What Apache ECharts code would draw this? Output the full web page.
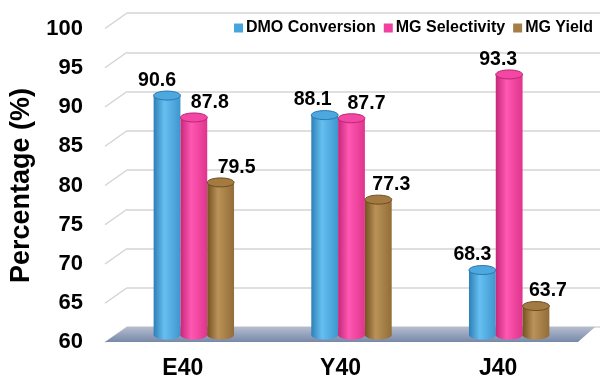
<!DOCTYPE html>
<html>
<head>
<meta charset="utf-8">
<script src="https://cdn.jsdelivr.net/npm/echarts@6/dist/echarts.min.js"></script>
<style>
  html, body { margin: 0; padding: 0; background: #fff; }
  #main { width: 603px; height: 385px; }
</style>
</head>
<body>
<div id="main"></div>
<script>
var categories = ['E40', 'Y40', 'J40'];
var seriesNames = ['DMO Conversion', 'MG Selectivity', 'MG Yield'];
var dmoConversion = [90.6, 88.1, 68.3];
var mgSelectivity = [87.8, 87.7, 93.3];
var mgYield = [79.5, 77.3, 63.7];
var gridTicks = [60, 65, 70, 75, 80, 85, 90, 95, 100];

var yMin = 60, yMax = 100, yStep = 5;
var font = '"Liberation Sans", Arial, sans-serif';

// cylinder colours: left edge, highlight, right edge, top, rim
var palette = [
  { dark: '#2e7fb6', light: '#66bff0', edge: '#3e96cf', top: '#4ca8de', rim: '#2b78ad', legend: '#46a6dc' },
  { dark: '#c4287a', light: '#ff58b2', edge: '#df348e', top: '#f247a3', rim: '#b92673', legend: '#f040a0' },
  { dark: '#75511f', light: '#ba9259', edge: '#926d37', top: '#a27a42', rim: '#6f4c1e', legend: '#a57d46' }
];
// horizontal nudge of value labels (per series, per category)
var labelDx = [[-10, -12, -10], [16, 15, -11], [16, 13, 12]];

var myChart = echarts.init(document.getElementById('main'));

function cylinder(sIdx) {
  return function (params, api) {
    var idx = api.value(0);
    var val = api.value(1);
    var top = api.coord([idx, val]);
    var base = api.coord([idx, yMin]);
    var band = api.size([1, 0])[0];
    var w = band * 0.17;
    var cx = top[0] + (sIdx - 1) * w;
    var rx = w / 2, ry = 4.5;
    var c = palette[sIdx];
    var grad = new echarts.graphic.LinearGradient(0, 0, 1, 0, [
      { offset: 0, color: c.dark },
      { offset: 0.4, color: c.light },
      { offset: 1, color: c.edge }
    ]);
    return {
      type: 'group',
      children: [
        { type: 'ellipse', shape: { cx: cx, cy: base[1], rx: rx, ry: ry }, style: { fill: grad } },
        { type: 'rect', shape: { x: cx - rx, y: top[1], width: w, height: base[1] - top[1] }, style: { fill: grad } },
        { type: 'ellipse', shape: { cx: cx, cy: top[1], rx: rx, ry: ry }, style: { fill: c.top, stroke: c.rim, lineWidth: 1 } },
        {
          type: 'text',
          style: {
            text: val.toFixed(1), x: cx + labelDx[sIdx][idx], y: top[1] - 15,
            align: 'center', verticalAlign: 'middle',
            font: 'bold 19.5px ' + font, fill: '#000'
          }
        }
      ]
    };
  };
}

function toPairs(arr) {
  return arr.map(function (v, i) { return [i, v]; });
}

var values = [dmoConversion, mgSelectivity, mgYield];
var barSeries = values.map(function (arr, i) {
  return {
    name: seriesNames[i],
    type: 'custom',
    xAxisIndex: 0,
    yAxisIndex: 0,
    z: 5,
    itemStyle: { color: palette[i].legend },
    renderItem: cylinder(i),
    encode: { x: 0, y: 1 },
    data: toPairs(arr)
  };
});

option = {
  backgroundColor: '#fff',
  animation: false,
  legend: {
    data: seriesNames,
    right: 5,
    top: 15,
    icon: 'rect',
    itemWidth: 9,
    itemHeight: 9,
    itemGap: 8,
    textStyle: { fontFamily: font, fontWeight: 'bold', fontSize: 16, color: '#000', padding: [0, 0, 0, -2] }
  },
  grid: [
    // bar plane
    { left: 115, right: 15, top: 22, bottom: 50 },
    // front plane (labels)
    { left: 104, right: 26, top: 29, bottom: 43 },
    // back wall
    { left: 127, right: 3, top: 13, bottom: 58 }
  ],
  xAxis: [
    { gridIndex: 0, type: 'category', data: categories, show: false },
    {
      gridIndex: 1, type: 'category', data: categories,
      axisLine: { show: false }, axisTick: { show: false },
      axisLabel: { margin: 15, fontFamily: font, fontWeight: 'bold', fontSize: 23, color: '#000' }
    },
    { gridIndex: 2, type: 'value', min: 0, max: 1, show: false }
  ],
  yAxis: [
    { gridIndex: 0, type: 'value', min: yMin, max: yMax, interval: yStep, show: false },
    {
      gridIndex: 1, type: 'value', min: yMin, max: yMax, interval: yStep,
      axisLine: { show: false }, axisTick: { show: false }, splitLine: { show: false },
      axisLabel: { margin: 21, fontFamily: font, fontWeight: 'bold', fontSize: 22, color: '#000' },
      name: 'Percentage (%)',
      nameLocation: 'middle',
      nameRotate: 90,
      nameGap: 64,
      nameTextStyle: { fontFamily: font, fontWeight: 'bold', fontSize: 27, color: '#000' }
    },
    {
      gridIndex: 2, type: 'value', min: yMin, max: yMax, interval: yStep,
      axisLine: { show: false }, axisTick: { show: false }, axisLabel: { show: false },
      splitLine: { show: true, lineStyle: { color: '#d4d4d4', width: 1.5 } }
    }
  ],
  series: [
    // side wall diagonals
    {
      type: 'custom',
      xAxisIndex: 2,
      yAxisIndex: 2,
      z: 1,
      silent: true,
      renderItem: function (params, api) {
        var p = api.coord([0, api.value(0)]);
        return {
          type: 'line',
          shape: { x1: p[0], y1: p[1], x2: p[0] - 22, y2: p[1] + 15.5 },
          style: { stroke: '#d4d4d4', lineWidth: 1.5 }
        };
      },
      encode: { y: 0 },
      data: gridTicks.map(function (t) { return [t]; })
    },
    // floor
    {
      type: 'custom',
      xAxisIndex: 2,
      yAxisIndex: 2,
      z: 2,
      silent: true,
      renderItem: function (params, api) {
        var bl = api.coord([0, yMin]);
        var br = api.coord([1, yMin]);
        br[0] -= 5;
        return {
          type: 'polygon',
          shape: { points: [bl, br, [br[0] - 17, br[1] + 15], [bl[0] - 22, bl[1] + 15]] },
          style: {
            fill: new echarts.graphic.LinearGradient(0, 0, 0, 1, [
              { offset: 0, color: '#b4bccf' },
              { offset: 1, color: '#7789a9' }
            ])
          }
        };
      },
      encode: { y: 0 },
      data: [[yMin]]
    }
  ].concat(barSeries)
};

myChart.setOption(option);
</script>
</body>
</html>
